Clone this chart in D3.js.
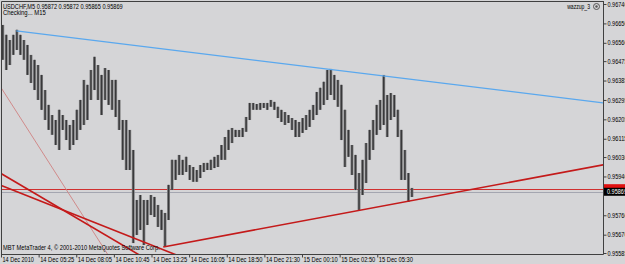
<!DOCTYPE html>
<html>
<head>
<meta charset="utf-8">
<script src="https://cdn.jsdelivr.net/npm/d3@7/dist/d3.min.js"></script>
<style>
body { margin: 0; background: #d5d5d7; }
svg { display: block; font-family: "Liberation Sans", sans-serif; }
</style>
</head>
<body>
<svg width="625" height="264"></svg>
<script>
// USDCHF M5, price range of every 3 bars (15 min), first bar 14 Dec 02:45
var highs = [0.96643, 0.96597, 0.96573, 0.96597, 0.96620, 0.96597, 0.96573, 0.96550, 0.96504, 0.96481,
  0.96457, 0.96411, 0.96341, 0.96272, 0.96225, 0.96202, 0.96249, 0.96225, 0.96202, 0.96179,
  0.96202, 0.96249, 0.96295, 0.96388, 0.96365, 0.96434, 0.96495, 0.96457, 0.96411, 0.96443,
  0.96434, 0.96388, 0.96388, 0.96295, 0.96202, 0.96202, 0.96156, 0.96063, 0.95831, 0.95854,
  0.95831, 0.95831, 0.95854, 0.95845, 0.95808, 0.95785, 0.95771, 0.95901, 0.96017, 0.96017,
  0.96040, 0.96017, 0.96031, 0.95993, 0.95984, 0.95970, 0.95993, 0.96003, 0.96003, 0.96017,
  0.96031, 0.96040, 0.96086, 0.96123, 0.96156, 0.96165, 0.96156, 0.96156, 0.96165, 0.96216,
  0.96281, 0.96281, 0.96276, 0.96281, 0.96281, 0.96281, 0.96295, 0.96286, 0.96263, 0.96249,
  0.96239, 0.96225, 0.96211, 0.96202, 0.96193, 0.96211, 0.96225, 0.96249, 0.96272, 0.96332,
  0.96351, 0.96379, 0.96434, 0.96439, 0.96411, 0.96388, 0.96365, 0.96249, 0.96156, 0.96086,
  0.96040, 0.95956, 0.96017, 0.96095, 0.96156, 0.96202, 0.96272, 0.96295, 0.96411, 0.96318,
  0.96327, 0.96318, 0.96249, 0.96156, 0.96063, 0.95956, 0.95887];
var lows = [0.96481, 0.96434, 0.96457, 0.96504, 0.96527, 0.96504, 0.96481, 0.96411, 0.96374, 0.96341,
  0.96295, 0.96249, 0.96202, 0.96156, 0.96133, 0.96086, 0.96063, 0.96156, 0.96109, 0.96063,
  0.96086, 0.96109, 0.96156, 0.96179, 0.96202, 0.96295, 0.96341, 0.96295, 0.96225, 0.96295,
  0.96272, 0.96249, 0.96216, 0.96156, 0.96017, 0.95970, 0.95970, 0.95631, 0.95669, 0.95692,
  0.95622, 0.95715, 0.95761, 0.95752, 0.95706, 0.95692, 0.95613, 0.95738, 0.95877, 0.95924,
  0.95947, 0.95947, 0.95961, 0.95924, 0.95915, 0.95915, 0.95933, 0.95961, 0.95970, 0.95970,
  0.95979, 0.95984, 0.96017, 0.96017, 0.96063, 0.96095, 0.96123, 0.96123, 0.96123, 0.96147,
  0.96202, 0.96249, 0.96249, 0.96249, 0.96258, 0.96249, 0.96263, 0.96249, 0.96211, 0.96193,
  0.96179, 0.96188, 0.96156, 0.96123, 0.96123, 0.96142, 0.96156, 0.96170, 0.96202, 0.96225,
  0.96249, 0.96272, 0.96295, 0.96318, 0.96295, 0.96263, 0.96109, 0.95984, 0.96031, 0.95947,
  0.95877, 0.95785, 0.95854, 0.95910, 0.96017, 0.96063, 0.96133, 0.96156, 0.96179, 0.96123,
  0.96202, 0.96216, 0.96123, 0.95924, 0.95924, 0.95822, 0.95845];

var priceTicks = [0.96740, 0.96650, 0.96560, 0.96475, 0.96385, 0.96295, 0.96205, 0.96115,
  0.96030, 0.95940, 0.95760, 0.95670, 0.95585];
var timeLabels = ["14 Dec 2010", "14 Dec 05:25", "14 Dec 08:05", "14 Dec 10:45", "14 Dec 13:25",
  "14 Dec 16:05", "14 Dec 18:50", "14 Dec 21:30", "15 Dec 00:10", "15 Dec 02:50", "15 Dec 05:30"];

var bid = 0.95869, ask = 0.95881;

// trend lines as [bar, price] anchor pairs, drawn from the first anchor to the right
var blueLine = [[13, 0.96615], [323, 0.96408]];
var supportLine = [[138, 0.95613], [303, 0.95781]];
var thinLine = [[-20, 0.96523], [90, 0.95585]];
var redLineA = [[-1, 0.95957], [84, 0.95684]];
var redLineB = [[-1, 0.95901], [84, 0.95717]];

var svg = d3.select("svg"),
    width = +svg.attr("width"),
    height = +svg.attr("height");

var pLeft = 1, pTop = 1, pRight = 603, pBottom = 254;
var charW = 2.85; // squeeze the small MT4 font

var x = d3.scaleLinear().domain([0, 512]).range([pLeft, pRight]);
var y = d3.scaleLinear().domain([0.95585, 0.96740]).range([253, 4]);

function squeeze(sel) {
  sel.each(function() {
    var t = d3.select(this);
    t.attr("textLength", t.text().length * charW).attr("lengthAdjust", "spacingAndGlyphs");
  });
}

svg.append("rect")
    .attr("width", width).attr("height", height)
    .attr("fill", "#d5d5d7");

svg.append("clipPath").attr("id", "plot")
  .append("rect")
    .attr("x", pLeft).attr("y", pTop)
    .attr("width", pRight - pLeft).attr("height", pBottom - pTop);

var plot = svg.append("g").attr("clip-path", "url(#plot)");

// bid / ask lines
plot.append("line")
    .attr("x1", pLeft).attr("x2", pRight)
    .attr("y1", Math.round(y(ask)) + 0.5).attr("y2", Math.round(y(ask)) + 0.5)
    .attr("stroke", "#d03030");
plot.append("line")
    .attr("x1", pLeft).attr("x2", pRight)
    .attr("y1", Math.round(y(bid)) + 0.5).attr("y2", Math.round(y(bid)) + 0.5)
    .attr("stroke", "#a4a6b0");

// price bars
var step = 3, bw = x(step) - x(0);
var bars = plot.append("g").selectAll("g")
  .data(highs.map(function(h, i) { return {i: i, h: h, l: lows[i]}; }))
  .enter().append("g");

bars.append("rect")
    .attr("x", function(d) { return x(d.i * step) + 0.3; })
    .attr("y", function(d) { return y(d.h); })
    .attr("width", bw - 0.6)
    .attr("height", function(d) { return y(d.l) - y(d.h); })
    .attr("fill", "#808082");

bars.append("line")
    .attr("x1", function(d) { return x(d.i * step) + bw / 2; })
    .attr("x2", function(d) { return x(d.i * step) + bw / 2; })
    .attr("y1", function(d) { return y(d.h); })
    .attr("y2", function(d) { return y(d.l); })
    .attr("stroke", "#38383a")
    .attr("stroke-width", 1.4);

// trend lines, rays from the first anchor to the right
function ray(p, color, w) {
  var k = (p[1][1] - p[0][1]) / (p[1][0] - p[0][0]);
  var b0 = p[0][0], b1 = 520;
  plot.append("line")
      .attr("x1", x(b0)).attr("y1", y(p[0][1]))
      .attr("x2", x(b1)).attr("y2", y(p[0][1] + k * (b1 - b0)))
      .attr("stroke", color)
      .attr("stroke-width", w);
}
ray(thinLine, "#d08a8a", 1);
ray(redLineA, "#c41a1a", 1.6);
ray(redLineB, "#c41a1a", 1.6);
ray(supportLine, "#c41a1a", 1.6);
ray(blueLine, "#5aa8ee", 1.2);

// frame
svg.append("path")
    .attr("d", "M" + (pLeft + 0.5) + "," + pBottom + "V" + (pTop + 0.5) + "H" + pRight)
    .attr("fill", "none")
    .attr("stroke", "#404040");

// axes
var yAxis = svg.append("g")
    .attr("transform", "translate(" + (pRight + 0.5) + ",0)")
    .call(d3.axisRight(y).tickValues(priceTicks).tickSize(3).tickPadding(1)
      .tickFormat(d3.format(".5f")));

var xAxis = svg.append("g")
    .attr("transform", "translate(0," + (pBottom + 0.5) + ")")
    .call(d3.axisBottom(x).tickValues(timeLabels.map(function(d, i) { return i * 32; }))
      .tickSize(3).tickFormat(function(d, i) { return timeLabels[i]; }));

yAxis.select(".domain").attr("d", "M0," + pTop + "V" + (pBottom + 0.5)).attr("stroke", "#404040");
xAxis.select(".domain").attr("d", "M" + pLeft + ",0H" + (pRight + 0.5)).attr("stroke", "#404040");

svg.selectAll(".tick line").attr("stroke", "#404040");
svg.selectAll(".tick text").attr("fill", "#000").style("font-size", "6.5px");
yAxis.selectAll(".tick text").attr("dy", "0.32em");
xAxis.selectAll(".tick text")
    .attr("text-anchor", "start")
    .attr("x", 1)
    .attr("y", 3)
    .attr("dy", "0.71em");
svg.selectAll(".tick text").call(squeeze);

// current price label
svg.append("rect")
    .attr("x", pRight + 1).attr("y", y(ask) - 5)
    .attr("width", 22).attr("height", 5)
    .attr("fill", "#e01010");
svg.append("rect")
    .attr("x", pRight + 1).attr("y", y(bid) - 4)
    .attr("width", 22).attr("height", 8)
    .attr("fill", "#000");
svg.append("text")
    .attr("x", pRight + 4).attr("y", y(bid))
    .attr("dy", "0.32em")
    .attr("fill", "#fff")
    .style("font-size", "6.5px")
    .text(d3.format(".5f")(bid))
    .call(squeeze);

// captions
svg.append("text").attr("x", 3).attr("y", 8.5).style("font-size", "6.5px")
    .text("USDCHF,M5  0.95872 0.95872 0.95865 0.95869").call(squeeze);
svg.append("text").attr("x", 3).attr("y", 15).style("font-size", "6.5px")
    .text("Checking... M15").call(squeeze);
svg.append("text").attr("x", 590).attr("y", 9).attr("text-anchor", "end").style("font-size", "6.5px")
    .text("wazzup_3").call(squeeze);
svg.append("circle").attr("cx", 596.5).attr("cy", 6.5).attr("r", 3)
    .attr("fill", "#d5d5d7").attr("stroke", "#555");
svg.append("circle").attr("cx", 596.5).attr("cy", 6.5).attr("r", 1.2).attr("fill", "#555");
svg.append("text").attr("x", 3).attr("y", 250).style("font-size", "6.5px")
    .text("MBT MetaTrader 4, \u00a9 2001-2010 MetaQuotes Software Corp.").call(squeeze);
</script>
</body>
</html>
